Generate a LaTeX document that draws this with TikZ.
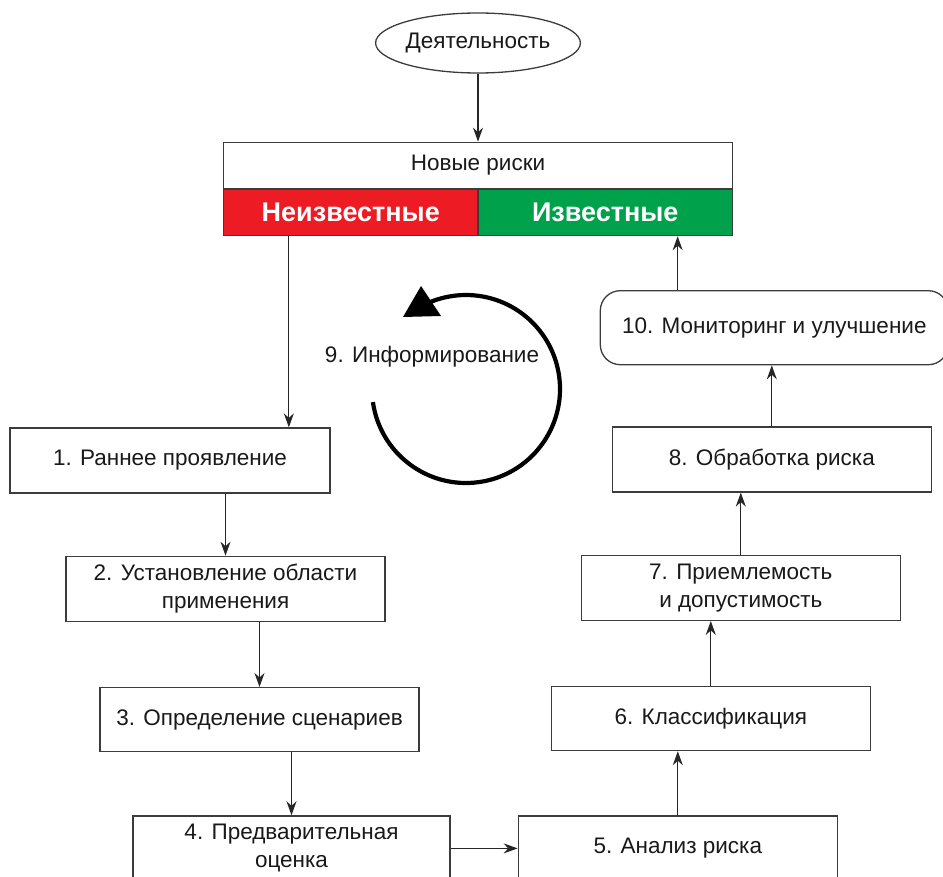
\documentclass[tikz,border=0pt]{standalone}
\usepackage{fontspec}
\setmainfont{Liberation Sans}
\usetikzlibrary{positioning, calc, arrows.meta, shapes.geometric}
\definecolor{riskred}{HTML}{ED1C24}
\definecolor{riskgreen}{HTML}{00A14B}
\definecolor{edgegray}{HTML}{3C3C3C}

\begin{document}
\begin{tikzpicture}[x=1pt, y=1pt,
    every node/.style={font=\fontsize{22.5}{28}\selectfont, text=black!90},
    stepbox/.style={draw=edgegray, line width=1.3pt, minimum width=319pt, minimum height=65pt, inner sep=0pt, align=center},
    halfbox/.style={draw=edgegray, line width=1.3pt, minimum width=254.5pt, minimum height=46pt, inner sep=0pt, anchor=north, text=white, font=\fontsize{27}{30}\selectfont\bfseries},
    arr/.style={draw=black!85, line width=1.2pt, -{Stealth[length=14pt, width=10pt]}}]
    \useasboundingbox (0,0) rectangle (943,-877);
    \node[ellipse, draw=edgegray, line width=1.3pt, minimum width=204pt, minimum height=60pt, inner sep=0pt] (act) at (478,-43) {Деятельность};
    \node[draw=edgegray, line width=1.3pt, minimum width=509pt, minimum height=46pt, below=68pt of act] (nr) {Новые риски};
    \node[halfbox, fill=riskred, anchor=north west] (unk) at (nr.south west) {Неизвестные};
    \node[halfbox, fill=riskgreen, anchor=north east] (kn) at (nr.south east) {Известные};
    \node[stepbox, minimum width=320pt] (b1) at (170,-460.5) {1. Раннее проявление};
    \node[stepbox, below=62pt of b1, xshift=55.5pt] (b2) {2. Установление области\\применения};
    \node[stepbox, minimum height=64pt, below=65pt of b2, xshift=34pt] (b3) {3. Определение сценариев};
    \node[stepbox, minimum width=317pt, below=63pt of b3, xshift=32pt] (b4) {4. Предварительная\\оценка};
    \node[stepbox, right=67pt of b4] (b5) {5. Анализ риска};
    \node[stepbox, minimum height=64pt, above=64pt of b5, xshift=33pt] (b6) {6. Классификация};
    \node[stepbox, above=65pt of b6, xshift=30pt] (b7) {7. Приемлемость\\и допустимость};
    \node[stepbox, above=62pt of b7, xshift=31pt] (b8) {8. Обработка риска};
    \node[stepbox, rounded corners=20pt, minimum width=348pt, minimum height=74pt, above=61pt of b8, xshift=2.5pt] (b10) {10. Мониторинг и улучшение};
    \node (info) at (432,-357) {9. Информирование};
    \coordinate (c9) at (466,-389);
    \draw[arr] (act.south) -- (nr.north);
    \draw[arr] ([xshift=66pt]unk.south west) -- ([xshift=66pt]unk.south west |- b1.north);
    \draw[arr] (b2.north |- b1.south) -- (b2.north);
    \draw[arr] (b3.north |- b2.south) -- (b3.north);
    \draw[arr] (b4.north |- b3.south) -- (b4.north);
    \draw[arr] (b4.east) -- (b5.west);
    \draw[arr] (b5.north) -- (b5.north |- b6.south);
    \draw[arr] (b6.north) -- (b6.north |- b7.south);
    \draw[arr] (b7.north) -- (b7.north |- b8.south);
    \draw[arr] (b8.north) -- (b8.north |- b10.south);
    \draw[arr] ([xshift=78pt]b10.north west) -- ([xshift=78pt]b10.north west |- kn.south);
    \draw[line width=4.2pt] ([shift={(188:94)}]c9) arc[start angle=188, end angle=473, radius=94];
    \fill ([shift={(-63,72)}]c9) -- ([shift={(-25,73)}]c9) -- ([shift={(-45,103)}]c9) -- cycle;
\end{tikzpicture}
\end{document}
